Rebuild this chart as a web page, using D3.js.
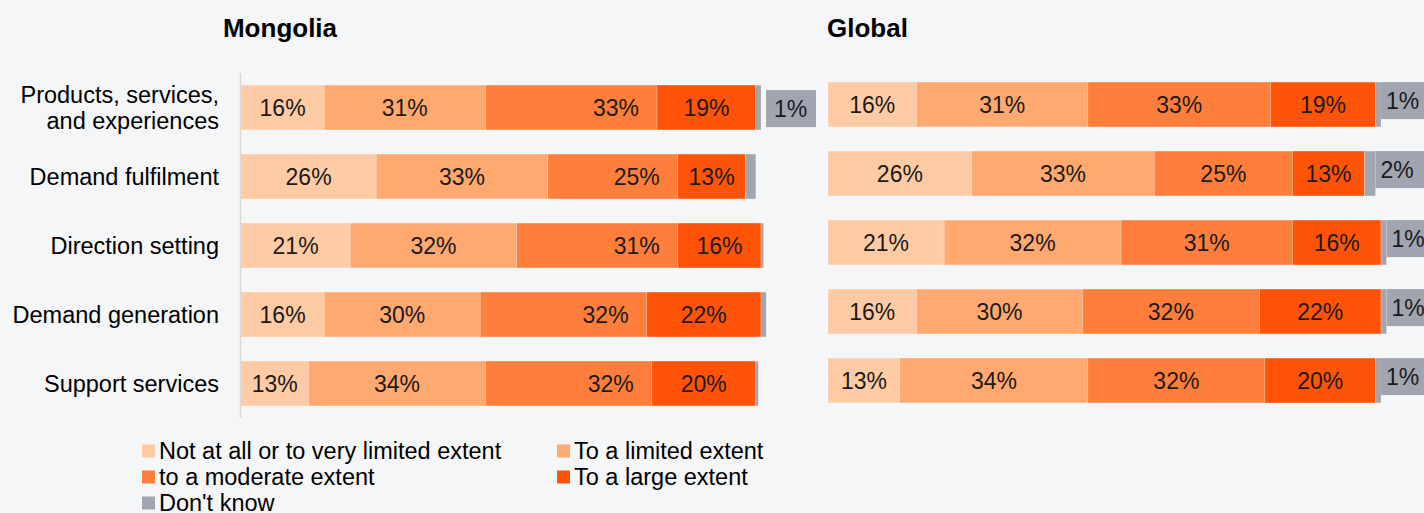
<!DOCTYPE html>
<html>
<head>
<meta charset="utf-8">
<script src="https://cdn.jsdelivr.net/npm/d3@7"></script>
<style>
  html, body { margin: 0; padding: 0; background: #F5F6F8; }
  svg { display: block; font-family: "Liberation Sans", Arial, sans-serif; }
</style>
</head>
<body>
<svg id="chart" width="1424" height="513"></svg>
<script>
// Categories (top to bottom)
const categories = [
  "Products, services, and experiences",
  "Demand fulfilment",
  "Direction setting",
  "Demand generation",
  "Support services"
];
const categoryLines = [
  ["Products, services,", "and experiences"],
  ["Demand fulfilment"],
  ["Direction setting"],
  ["Demand generation"],
  ["Support services"]
];

// Response scale
const seriesKeys = ["notAtAll", "limited", "moderate", "large", "dontKnow"];
const seriesNames = [
  "Not at all or to very limited extent",
  "To a limited extent",
  "to a moderate extent",
  "To a large extent",
  "Don't know"
];
const seriesColors = ["#FFCBA4", "#FFA86F", "#FF7E3B", "#FF5307", "#A1A5B0"];

// Mongolia (%)
const mongoliaNotAtAll = [16, 26, 21, 16, 13];
const mongoliaLimited  = [31, 33, 32, 30, 34];
const mongoliaModerate = [33, 25, 31, 32, 32];
const mongoliaLarge    = [19, 13, 16, 22, 20];
const mongoliaDontKnow = [1, 2, 0.5, 1, 0.5];
const mongoliaDontKnowLabelled = [true, false, false, false, false];

// Global (%)
const globalNotAtAll = [16, 26, 21, 16, 13];
const globalLimited  = [31, 33, 32, 30, 34];
const globalModerate = [33, 25, 31, 32, 32];
const globalLarge    = [19, 13, 16, 22, 20];
const globalDontKnow = [1, 2, 1, 1, 1];
const globalDontKnowLabelled = [true, true, true, true, true];

const svg = d3.select("#chart");
const W = 1424, H = 513;
svg.append("rect").attr("width", W).attr("height", H).attr("fill", "#F5F6F8");

function buildRows(a, b, c, d, e) {
  return categories.map((cat, i) => ({
    category: cat, notAtAll: a[i], limited: b[i], moderate: c[i], large: d[i], dontKnow: e[i]
  }));
}

const stack = d3.stack().keys(seriesKeys);
const color = d3.scaleOrdinal().domain(seriesKeys).range(seriesColors);
const pct = v => d3.format(".0f")(v) + "%";

function drawPanel(opts) {
  const rows = buildRows(...opts.values);
  const layers = stack(rows);
  const x = d3.scaleLinear().domain([0, 100]).range([opts.x0, opts.x0 + opts.width]);
  const y = d3.scaleBand().domain(categories).range([opts.y0, opts.y1])
    .paddingInner(0.35).paddingOuter(0.175);
  const g = svg.append("g");

  // Title
  g.append("text")
    .attr("x", opts.titleX).attr("y", 37)
    .attr("text-anchor", opts.titleAnchor)
    .attr("font-size", 26).attr("font-weight", "bold").attr("fill", "#000")
    .text(opts.title);

  // Segments
  const layerG = g.selectAll("g.layer").data(layers).join("g")
    .attr("class", "layer")
    .attr("fill", d => color(d.key));
  layerG.selectAll("rect").data(d => d).join("rect")
    .attr("x", d => x(d[0]))
    .attr("y", d => y(d.data.category))
    .attr("width", d => x(d[1]) - x(d[0]))
    .attr("height", y.bandwidth())
    .attr("stroke", "#ffffff").attr("stroke-opacity", 0.35).attr("stroke-width", 0.6);

  // Value labels for the four main series
  layers.slice(0, 4).forEach(layer => {
    const endAlign = opts.endAlignModerate && layer.key === "moderate";
    g.append("g").selectAll("text").data(layer).join("text")
      .attr("x", d => endAlign ? x(d[1]) - 18 : (x(d[0]) + x(d[1])) / 2)
      .attr("text-anchor", endAlign ? "end" : "middle")
      .attr("y", d => y(d.data.category) + y.bandwidth() / 2)
      .attr("dy", "0.36em")
      .attr("font-size", 23).attr("fill", "#1a1a1a")
      .text(d => pct(d[1] - d[0]));
  });

  // "Don't know" labels in grey boxes beyond the bar end
  const dk = layers[4];
  const boxes = g.append("g").selectAll("g").data(dk.filter((d, i) => opts.dkLabelled[i])).join("g");
  boxes.append("rect")
    .attr("x", d => x(d[1]) + opts.boxGap)
    .attr("y", d => y(d.data.category) + opts.boxDy)
    .attr("width", 50).attr("height", 37)
    .attr("fill", seriesColors[4]);
  boxes.append("text")
    .attr("x", d => x(d[1]) + opts.boxGap + opts.boxPad)
    .attr("y", d => y(d.data.category) + opts.boxDy + 18.5)
    .attr("dy", "0.36em")
    .attr("font-size", 23).attr("fill", "#1a1a1a")
    .text(d => pct(d[1] - d[0]));

  return { x, y };
}

const mon = drawPanel({
  title: "Mongolia", titleX: 280, titleAnchor: "middle",
  values: [mongoliaNotAtAll, mongoliaLimited, mongoliaModerate, mongoliaLarge, mongoliaDontKnow],
  dkLabelled: mongoliaDontKnowLabelled,
  x0: 241, width: 520, y0: 73, y1: 418,
  endAlignModerate: true, boxGap: 5, boxDy: 5, boxPad: 8
});

drawPanel({
  title: "Global", titleX: 827, titleAnchor: "start",
  values: [globalNotAtAll, globalLimited, globalModerate, globalLarge, globalDontKnow],
  dkLabelled: globalDontKnowLabelled,
  x0: 828, width: 553, y0: 70, y1: 415,
  endAlignModerate: false, boxGap: 0, boxDy: 0, boxPad: 5
});

// Category axis line and labels (Mongolia panel)
svg.append("line")
  .attr("x1", 240.5).attr("x2", 240.5).attr("y1", 73).attr("y2", 418)
  .attr("stroke", "#D9D9D9").attr("stroke-width", 1.5);

const catG = svg.append("g");
categoryLines.forEach((lines, i) => {
  const cy = mon.y(categories[i]) + mon.y.bandwidth() / 2;
  const t = catG.append("text")
    .attr("text-anchor", "end").attr("font-size", 23.5).attr("fill", "#000");
  lines.forEach((ln, j) => {
    t.append("tspan")
      .attr("x", 219)
      .attr("y", cy + (j - (lines.length - 1) / 2) * 26)
      .attr("dy", "0.36em")
      .text(ln);
  });
});

// Legend
const legendPos = [
  [142, 451], [557, 451],
  [142, 477], [557, 477],
  [142, 503]
];
const leg = svg.append("g");
seriesNames.forEach((name, i) => {
  const [lx, ly] = legendPos[i];
  leg.append("rect").attr("x", lx).attr("y", ly - 6.5).attr("width", 13).attr("height", 13)
    .attr("fill", seriesColors[i]);
  leg.append("text").attr("x", lx + 17).attr("y", ly).attr("dy", "0.36em")
    .attr("font-size", 23.5).attr("fill", "#000").text(name);
});
</script>
</body>
</html>
